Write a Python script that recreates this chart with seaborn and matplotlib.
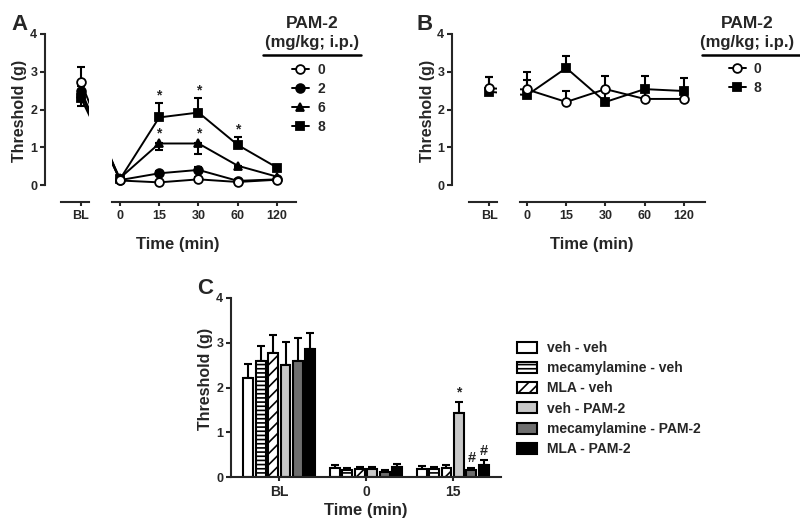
import numpy as np
import pandas as pd
import matplotlib
matplotlib.use('Agg')
import matplotlib.pyplot as plt
from matplotlib.lines import Line2D
import seaborn as sns

# ---- data (threshold, g) ----
times = ['BL', '0', '15', '30', '60', '120']
tpos = [-1, 0, 1, 2, 3, 4]

# panel A: PAM-2 doses 0, 2, 6, 8 mg/kg
a_d0 = [2.73, 0.12, 0.07, 0.15, 0.08, 0.14]
a_d0_sem = [0.40, 0.05, 0.03, 0.05, 0.03, 0.04]
a_d2 = [2.50, 0.13, 0.31, 0.40, 0.11, 0.15]
a_d2_sem = [0.12, 0.04, 0.06, 0.07, 0.04, 0.04]
a_d6 = [2.40, 0.18, 1.10, 1.10, 0.51, 0.22]
a_d6_sem = [0.30, 0.05, 0.18, 0.28, 0.06, 0.05]
a_d8 = [2.30, 0.15, 1.79, 1.92, 1.06, 0.46]
a_d8_sem = [0.20, 0.05, 0.37, 0.38, 0.21, 0.05]

# panel B: PAM-2 doses 0, 8 mg/kg
b_d0 = [2.56, 2.53, 2.20, 2.54, 2.28, 2.28]
b_d0_sem = [0.30, 0.47, 0.30, 0.36, 0.25, 0.25]
b_d8 = [2.47, 2.38, 3.10, 2.20, 2.54, 2.49]
b_d8_sem = [0.40, 0.40, 0.32, 0.30, 0.35, 0.35]

# panel C
c_groups = ['BL', '0', '15']
c_labels = ['veh - veh', 'mecamylamine - veh', 'MLA - veh',
            'veh - PAM-2', 'mecamylamine - PAM-2', 'MLA - PAM-2']
c_vehveh = [2.21, 0.19, 0.18]
c_mecveh = [2.59, 0.15, 0.17]
c_mlaveh = [2.76, 0.17, 0.21]
c_vehpam = [2.51, 0.17, 1.44]
c_mecpam = [2.60, 0.12, 0.16]
c_mlapam = [2.87, 0.22, 0.27]
c_vehveh_sem = [0.32, 0.07, 0.06]
c_mecveh_sem = [0.34, 0.05, 0.05]
c_mlaveh_sem = [0.41, 0.06, 0.05]
c_vehpam_sem = [0.51, 0.05, 0.23]
c_mecpam_sem = [0.50, 0.04, 0.05]
c_mlapam_sem = [0.34, 0.07, 0.10]
c_colors = ['white', 'white', 'white', '#c8c8c8', '#6e6e6e', 'black']
c_hatch = ['', '----', '///', '', '', '']

# ---- style ----
sns.set_style('ticks')
plt.rcParams['font.family'] = ['Liberation Sans', 'DejaVu Sans']
plt.rcParams['font.weight'] = 'bold'
plt.rcParams['axes.labelweight'] = 'bold'
plt.rcParams['axes.linewidth'] = 1.5
plt.rcParams['hatch.linewidth'] = 1.2

W, H = 800, 528
fig = plt.figure(figsize=(8, 5.28), dpi=100)


def px_axes(x0, y0, x1, y1):
    ax = fig.add_axes([x0 / W, 1 - y1 / H, (x1 - x0) / W, (y1 - y0) / H])
    ax.set_facecolor('none')
    return ax


def draw_series(axs, vals, sem, up, marker, fc, z):
    lo = [0] * len(sem) if up else sem
    hi = sem if up else [0] * len(sem)
    line = None
    for ax in axs:
        ax.errorbar(tpos, vals, yerr=[lo, hi], fmt='none', ecolor='black',
                    elinewidth=1.5, capsize=2.8, capthick=1.5, zorder=z)
        sns.lineplot(x=tpos, y=vals, ax=ax, color='black', linewidth=1.4,
                     marker=marker, markersize=6.3, markerfacecolor=fc,
                     markeredgecolor='black', markeredgewidth=1.3, zorder=z + 0.5)
        line = ax.lines[-1]
    return line


def style_pair(ax_bl, ax_m, xl_bl, bl_lo, xl_m):
    for ax in (ax_bl, ax_m):
        ax.set_ylim(-0.45, 4)
        ax.spines['top'].set_visible(False)
        ax.spines['right'].set_visible(False)
        ax.tick_params(axis='x', direction='out', length=3, width=1.5,
                       labelsize=9, pad=3)
        ax.tick_params(axis='y', direction='out', length=3.5, width=1.5,
                       labelsize=9, pad=2)
        ax.set_xlabel('')
        ax.set_ylabel('')
    ax_bl.set_xlim(*xl_bl)
    ax_bl.spines['left'].set_bounds(0, 4)
    ax_bl.spines['bottom'].set_bounds(bl_lo, xl_bl[1])
    ax_bl.set_xticks([-1])
    ax_bl.set_xticklabels(['BL'])
    ax_bl.set_yticks([0, 1, 2, 3, 4])
    ax_m.spines['left'].set_visible(False)
    ax_m.tick_params(axis='y', left=False, labelleft=False)
    ax_m.set_xlim(*xl_m)
    ax_m.set_xticks(tpos[1:])
    ax_m.set_xticklabels(times[1:])


def legend_block(ax, handles, labels, cx, x_line, hx, hy):
    fig.text(cx / W, 1 - 23 / H, 'PAM-2', ha='center', va='center',
             fontsize=12.5, fontweight='bold')
    fig.text(cx / W, 1 - 43 / H, '(mg/kg; i.p.)', ha='center', va='center',
             fontsize=12, fontweight='bold')
    fig.add_artist(Line2D([x_line[0] / W, x_line[1] / W], [1 - 55 / H, 1 - 55 / H],
                          color='black', lw=1.8, transform=fig.transFigure))
    ax.legend(handles, labels, loc='upper left', frameon=False,
              bbox_to_anchor=(hx / W, 1 - hy / H), bbox_transform=fig.transFigure,
              fontsize=10, handlelength=1.2, handletextpad=0.6, labelspacing=0.35,
              borderpad=0, borderaxespad=0)


# ---- panel A ----
axa_bl = px_axes(45, 34, 89, 202)
axa = px_axes(112, 34, 296, 202)
h8 = draw_series([axa_bl, axa], a_d8, a_d8_sem, True, 's', 'black', 2)
h6 = draw_series([axa_bl, axa], a_d6, a_d6_sem, False, '^', 'black', 3)
h2 = draw_series([axa_bl, axa], a_d2, a_d2_sem, True, 'o', 'black', 4)
h0 = draw_series([axa_bl, axa], a_d0, a_d0_sem, True, 'o', 'white', 5)
style_pair(axa_bl, axa, (-1.916, -0.796), -1.51, (-0.2, 4.48))
for i in (2, 3, 4):
    axa.text(tpos[i], a_d8[i] + a_d8_sem[i] + 0.2, '*', ha='center', va='center',
             fontsize=10)
for i in (2, 3):
    axa.text(tpos[i], a_d6[i] + 0.27, '*', ha='center', va='center', fontsize=10)
axa_bl.set_ylabel('Threshold (g)', fontsize=11.5)
axa_bl.yaxis.set_label_coords(-0.42, 0.54)
fig.text(178 / W, 1 - 245 / H, 'Time (min)', ha='center', va='center',
         fontsize=12, fontweight='bold')
fig.text(20 / W, 1 - 25 / H, 'A', ha='center', va='center', fontsize=16,
         fontweight='bold')
legend_block(axa, [h0, h2, h6, h8], ['0', '2', '6', '8'], 312, (263, 361), 292, 63)

# ---- panel B ----
axb_bl = px_axes(452, 34, 497, 202)
axb = px_axes(520, 34, 705, 202)
hb8 = draw_series([axb_bl, axb], b_d8, b_d8_sem, True, 's', 'black', 2)
hb0 = draw_series([axb_bl, axb], b_d0, b_d0_sem, True, 'o', 'white', 3)
style_pair(axb_bl, axb, (-1.94, -0.80), -1.51, (-0.18, 4.54))
axb_bl.set_ylabel('Threshold (g)', fontsize=11.5)
axb_bl.yaxis.set_label_coords(-0.38, 0.54)
fig.text(592 / W, 1 - 245 / H, 'Time (min)', ha='center', va='center',
         fontsize=12, fontweight='bold')
fig.text(425 / W, 1 - 25 / H, 'B', ha='center', va='center', fontsize=16,
         fontweight='bold')
legend_block(axb, [hb0, hb8], ['0', '8'], 747, (702, 800), 729, 62)

# ---- panel C ----
axc = px_axes(231, 298, 501, 477)
c_vals = [c_vehveh, c_mecveh, c_mlaveh, c_vehpam, c_mecpam, c_mlapam]
c_sems = [c_vehveh_sem, c_mecveh_sem, c_mlaveh_sem, c_vehpam_sem, c_mecpam_sem, c_mlapam_sem]
df_c = pd.DataFrame({
    'time': np.tile(c_groups, len(c_labels)),
    'treat': np.repeat(c_labels, len(c_groups)),
    'val': np.concatenate(c_vals),
})
sns.barplot(data=df_c, x='time', y='val', hue='treat', order=c_groups,
            hue_order=c_labels, palette=dict(zip(c_labels, c_colors)),
            errorbar=None, width=0.86, gap=0.2, edgecolor='black', linewidth=1.5,
            saturation=1, legend=False, ax=axc)
bars = list(axc.containers)[:6]
for cont, hatch, sem in zip(bars, c_hatch, c_sems):
    for b in cont:
        b.set_hatch(hatch)
        b.set_zorder(2)
    xs = [b.get_x() + b.get_width() / 2 for b in cont]
    hs = [b.get_height() for b in cont]
    axc.errorbar(xs, hs, yerr=[[0] * len(sem), sem], fmt='none', ecolor='black',
                 elinewidth=1.5, capsize=2.8, capthick=1.5, zorder=1)
# significance marks at 15 min
b_vp = bars[3][2]
axc.text(b_vp.get_x() + b_vp.get_width() / 2, c_vehpam[2] + c_vehpam_sem[2] + 0.22,
         '*', ha='center', va='center', fontsize=10)
for k in (4, 5):
    b = bars[k][2]
    axc.text(b.get_x() + b.get_width() / 2, c_vals[k][2] + c_sems[k][2] + 0.22,
             '#', ha='center', va='center', fontsize=10.5)
axc.set_ylim(0, 4)
axc.set_yticks([0, 1, 2, 3, 4])
sns.despine(ax=axc)
axc.tick_params(axis='x', direction='out', length=3, width=1.5, labelsize=10, pad=3)
axc.tick_params(axis='y', direction='out', length=3.5, width=1.5, labelsize=9, pad=2)
axc.set_xlabel('Time (min)', fontsize=12, labelpad=3)
axc.set_ylabel('Threshold (g)', fontsize=11.5)
axc.yaxis.set_label_coords(-0.067, 0.55)
fig.text(205 / W, 1 - 288 / H, 'C', ha='center', va='center', fontsize=16,
         fontweight='bold')
axc.legend(bars, c_labels, loc='upper left', frameon=False,
           bbox_to_anchor=(517 / W, 1 - 341 / H), bbox_transform=fig.transFigure,
           fontsize=10, handlelength=1.45, handleheight=0.85, handletextpad=0.7,
           labelspacing=0.45, borderpad=0, borderaxespad=0)

fig.savefig('out.png', dpi=100)
